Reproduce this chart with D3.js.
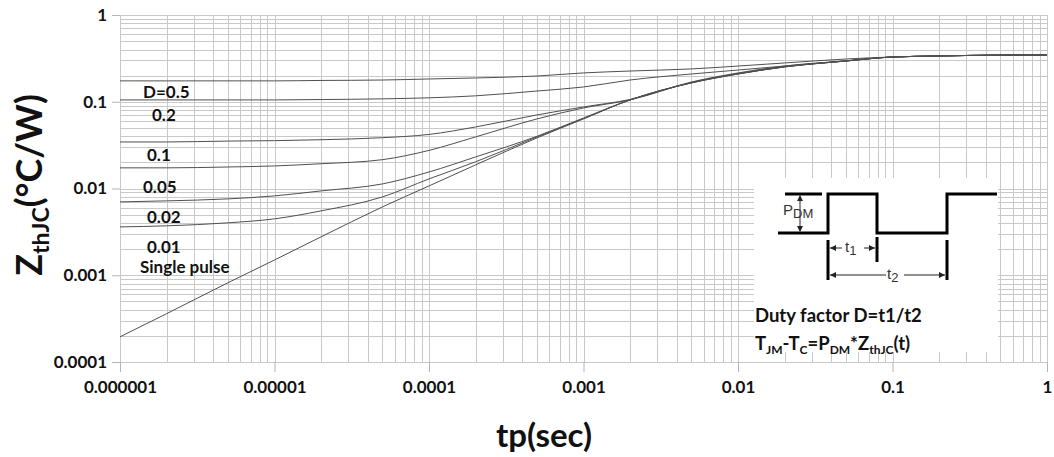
<!DOCTYPE html>
<html>
<head>
<meta charset="utf-8">
<script src="https://cdn.jsdelivr.net/npm/d3@7"></script>
<style>
  body { margin: 0; background: #fff; }
  svg { display: block; }
  .tick text { font-family: Lato, "Open Sans", sans-serif; font-weight: bold; font-size: 17px; fill: #111; }
</style>
</head>
<body>
<div id="chart"></div>
<script>
// pulse widths (sec)
var tp = [1e-6, 2e-6, 5e-6, 1e-5, 2e-5, 5e-5, 1e-4, 2e-4, 5e-4, 1e-3, 2e-3, 5e-3, 1e-2, 2e-2, 5e-2, 0.1, 0.2, 0.5, 1];

// ZthJC (C/W), one array per duty factor
var zD05    = [0.174, 0.174, 0.174, 0.174, 0.176, 0.178, 0.183, 0.188, 0.198, 0.215, 0.226, 0.239, 0.258, 0.280, 0.311, 0.328, 0.337, 0.345, 0.346];
var zD02    = [0.105, 0.105, 0.105, 0.105, 0.106, 0.108, 0.111, 0.117, 0.133, 0.148, 0.178, 0.209, 0.232, 0.258, 0.297, 0.328, 0.337, 0.345, 0.346];
var zD01    = [0.0344, 0.0344, 0.0352, 0.0356, 0.0365, 0.0385, 0.0420, 0.0512, 0.0705, 0.0871, 0.1063, 0.169, 0.215, 0.258, 0.296, 0.328, 0.337, 0.345, 0.346];
var zD005   = [0.0173, 0.0173, 0.0177, 0.0182, 0.0193, 0.0215, 0.0275, 0.0393, 0.0634, 0.0848, 0.105, 0.167, 0.211, 0.254, 0.295, 0.328, 0.337, 0.345, 0.346];
var zD002   = [0.00701, 0.0072, 0.00759, 0.00822, 0.00938, 0.0113, 0.0155, 0.0231, 0.040, 0.065, 0.105, 0.166, 0.210, 0.253, 0.295, 0.328, 0.337, 0.345, 0.346];
var zD001   = [0.00361, 0.00371, 0.00402, 0.00447, 0.00552, 0.0080, 0.0129, 0.0203, 0.0393, 0.0640, 0.105, 0.165, 0.209, 0.252, 0.295, 0.328, 0.337, 0.345, 0.346];
var zSingle = [0.000195, 0.00036, 0.00082, 0.0015, 0.00277, 0.00614, 0.0107, 0.0187, 0.0383, 0.0634, 0.105, 0.165, 0.209, 0.252, 0.295, 0.328, 0.337, 0.345, 0.346];

var seriesList = [zD05, zD02, zD01, zD005, zD002, zD001, zSingle];
var seriesNames = ["D=0.5", "0.2", "0.1", "0.05", "0.02", "0.01", "Single pulse"];

var xTicks = [1e-6, 1e-5, 1e-4, 1e-3, 1e-2, 1e-1, 1];
var xTickLabels = ["0.000001", "0.00001", "0.0001", "0.001", "0.01", "0.1", "1"];
var yTicks = [1e-4, 1e-3, 1e-2, 1e-1, 1];
var yTickLabels = ["0.0001", "0.001", "0.01", "0.1", "1"];

var width = 1054, height = 457;
var margin = {left: 120, right: 7, top: 15, bottom: 95};

var svg = d3.select("#chart").append("svg")
    .attr("width", width)
    .attr("height", height);

var x = d3.scaleLog().domain([1e-6, 1]).range([margin.left, width - margin.right]);
var y = d3.scaleLog().domain([1e-4, 1]).range([height - margin.bottom, margin.top]);

// grid
var minorX = [], minorY = [];
for (var e = -6; e < 0; e++) for (var k = 1; k < 10; k++) minorX.push(k * Math.pow(10, e));
minorX.push(1);
for (var e2 = -4; e2 < 0; e2++) for (var k2 = 1; k2 < 10; k2++) minorY.push(k2 * Math.pow(10, e2));
minorY.push(1);

var grid = svg.append("g");
grid.selectAll("line.vx").data(minorX).enter().append("line")
    .attr("x1", function(d){ return Math.round(x(d)) + 0.5; })
    .attr("x2", function(d){ return Math.round(x(d)) + 0.5; })
    .attr("y1", y(1)).attr("y2", y(1e-4))
    .style("stroke", "#c9c9c9").style("stroke-width", 1);
grid.selectAll("line.hy").data(minorY).enter().append("line")
    .attr("y1", function(d){ return Math.round(y(d)) + 0.5; })
    .attr("y2", function(d){ return Math.round(y(d)) + 0.5; })
    .attr("x1", x(1e-6)).attr("x2", x(1))
    .style("stroke", "#c9c9c9").style("stroke-width", 1);

// axes
var xAxis = d3.axisBottom(x).tickValues(xTicks).tickSize(10).tickPadding(9)
    .tickFormat(function(d, i){ return xTickLabels[i]; });
var yAxis = d3.axisLeft(y).tickValues(yTicks).tickSize(8).tickPadding(5)
    .tickFormat(function(d, i){ return yTickLabels[i]; });

var gx = svg.append("g").attr("transform", "translate(0," + y(1e-4) + ")").call(xAxis);
var gy = svg.append("g").attr("transform", "translate(" + x(1e-6) + ",0)").call(yAxis);
svg.selectAll(".domain").remove();
svg.selectAll(".tick line").style("stroke", "#b5b5b5");

// inset background (covers the grid)
var inset = svg.append("g").attr("transform", "translate(754,178)");
inset.append("rect").attr("x", 0).attr("y", 0).attr("width", 244).attr("height", 174).style("fill", "#fff");

// curves
var line = d3.line()
    .x(function(d){ return x(d[0]); })
    .y(function(d){ return y(d[1]); })
    .curve(d3.curveMonotoneX);

svg.append("g").selectAll("path").data(seriesList).enter().append("path")
    .attr("d", function(s){ return line(tp.map(function(t, i){ return [t, s[i]]; })); })
    .style("fill", "none")
    .style("stroke", "#505050")
    .style("stroke-width", 1);

// curve labels
var labelPos = [[143, 98], [152, 121], [147, 161], [143, 193], [147, 223], [147, 253], [140, 273]];
svg.append("g").selectAll("text").data(seriesNames).enter().append("text")
    .attr("x", function(d, i){ return labelPos[i][0]; })
    .attr("y", function(d, i){ return labelPos[i][1]; })
    .style("font-family", "Lato, sans-serif").style("font-weight", "bold").style("font-size", "17px")
    .style("fill", "#111")
    .text(function(d){ return d; });

// axis titles
svg.append("text")
    .attr("x", 544).attr("y", 447)
    .attr("text-anchor", "middle")
    .style("font-family", "Lato, sans-serif").style("font-weight", "bold").style("font-size", "33px")
    .style("fill", "#111")
    .text("tp(sec)");

var yt = svg.append("text")
    .attr("transform", "translate(42,185) rotate(-90)")
    .attr("text-anchor", "middle")
    .style("font-family", "Lato, sans-serif").style("font-weight", "bold").style("font-size", "36px")
    .style("fill", "#111");
yt.append("tspan").text("Z");
yt.append("tspan").attr("dy", 7).style("font-size", "23px").text("thJC");
yt.append("tspan").attr("dy", -7).text("(°C/W)");

// pulse schematic
var thick = 3;
inset.append("path")
    .attr("d", "M24,55H74V16H123V55H193V16H243")
    .style("fill", "none").style("stroke", "#000").style("stroke-width", thick);
inset.append("path")
    .attr("d", "M31,16H68 M74,62V102 M123,59V84 M193,62V102")
    .style("fill", "none").style("stroke", "#000").style("stroke-width", thick);

// dimension arrows
inset.append("path")
    .attr("d", "M46,18V53 M76,70H88 M110,70H121 M76,97H132 M150,97H191")
    .style("fill", "none").style("stroke", "#222").style("stroke-width", 1);
inset.append("path")
    .attr("d", "M46,17l-3,6h6z M46,54l-3,-6h6z M76,70l6,-3v6z M121,70l-6,-3v6z M76,97l6,-3v6z M191,97l-6,-3v6z")
    .style("fill", "#222");

function subLabel(g, px, py, main, sub, size, subSize) {
  var t = g.append("text").attr("x", px).attr("y", py)
      .style("font-family", "'Liberation Sans', Arial, sans-serif").style("font-size", size + "px").style("fill", "#333");
  t.append("tspan").text(main);
  t.append("tspan").attr("dy", 3).style("font-size", subSize + "px").text(sub);
}
subLabel(inset, 29, 37, "P", "DM", 15, 13);
subLabel(inset, 91, 74, "t", "1", 15, 13);
subLabel(inset, 133, 101, "t", "2", 15, 13);

// inset text
inset.append("text").attr("x", 1).attr("y", 144)
    .style("font-family", "Lato, sans-serif").style("font-weight", "bold").style("font-size", "18.5px").style("fill", "#111")
    .text("Duty factor D=t1/t2");

var f = inset.append("text").attr("x", 1).attr("y", 172)
    .style("font-family", "Lato, sans-serif").style("font-weight", "bold").style("font-size", "18.5px").style("fill", "#111");
f.append("tspan").text("T");
f.append("tspan").attr("dy", 4).style("font-size", "12px").text("JM");
f.append("tspan").attr("dy", -4).text("-T");
f.append("tspan").attr("dy", 4).style("font-size", "12px").text("C");
f.append("tspan").attr("dy", -4).text("=P");
f.append("tspan").attr("dy", 4).style("font-size", "12px").text("DM");
f.append("tspan").attr("dy", -4).text("*Z");
f.append("tspan").attr("dy", 4).style("font-size", "12px").text("thJC");
f.append("tspan").attr("dy", -4).text("(t)");
</script>
</body>
</html>
